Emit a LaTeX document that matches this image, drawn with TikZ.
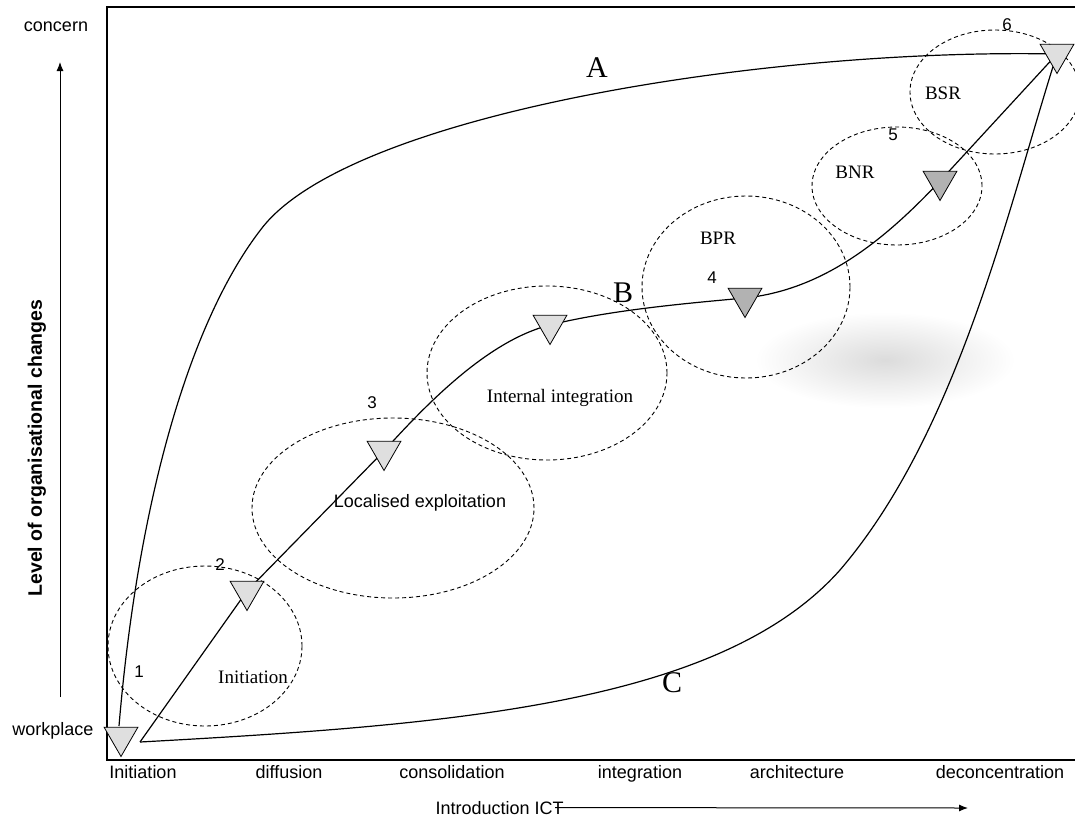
\documentclass[tikz,border=0pt]{standalone}
\usepackage{fontspec}
\setmainfont{Liberation Serif}
\newfontfamily\arial{Liberation Sans}
\usetikzlibrary{shapes.geometric,arrows.meta,backgrounds}
\tikzset{
  ell/.style={draw, line width=0.9pt, dash pattern=on 4pt off 3pt},
  crv/.style={draw, line width=1.2pt},
  tri/.style={regular polygon, regular polygon sides=3, shape border rotate=180,
     draw, line width=0.8pt, fill=gray!25, minimum size=39pt, inner sep=0pt},
  trid/.style={tri, fill=gray!60},
  sans/.style={font=\arial\fontsize{18}{18}\selectfont},
  axl/.style={sans, anchor=base},
  num/.style={font=\arial\fontsize{17}{17}\selectfont},
  ser/.style={font=\fontsize{19}{19}\selectfont},
  big/.style={font=\fontsize{30}{30}\selectfont},
}
\begin{document}
\begin{tikzpicture}[x=1pt,y=-1pt]
\useasboundingbox (0,0) rectangle (1075,822);
% frame
\draw[line width=1.3pt] (1075,7) -- (107,7) -- (107,760) -- (1075,760);
% axes text
\node[sans] (concern) at (56,27) {concern};
\node[sans] (workplace) at (53,731) {workplace};
\coordinate (vtop) at (60,62);
\coordinate (vbot) at (60,697);
\draw[line width=1pt, -{Latex[length=9pt,width=7pt]}] (vbot) -- (vtop);
\node[font=\arial\bfseries\fontsize{19.5}{19.5}\selectfont, rotate=90] (ylab) at (37,448) {Level of organisational changes};
\node[axl] (x1) at (143,778) {Initiation};
\node[axl] (x2) at (289,778) {diffusion};
\node[axl] (x3) at (452,778) {consolidation};
\node[axl] (x4) at (640,778) {integration};
\node[axl] (x5) at (797,778) {architecture};
\node[axl] (x6) at (1000,778) {deconcentration};
\node[sans, anchor=base west] (xlab) at (432,814) {Introduction ICT};
\coordinate (xend) at (968,808);
\draw[line width=1pt, -{Latex[length=9pt,width=7pt]}] ([xshift=-12pt]xlab.east) -- (xend);
% ellipses
\draw[ell] (205,646) ellipse [x radius=97pt, y radius=80pt];
\draw[ell] (393,508) ellipse [x radius=141pt, y radius=90pt];
\draw[ell] (547,373) ellipse [x radius=120pt, y radius=87pt];
\draw[ell] (746,287) ellipse [x radius=104pt, y radius=91pt];
\draw[ell] (897,186) ellipse [x radius=85pt, y radius=59pt];
\draw[ell] (995,92) ellipse [x radius=85pt, y radius=62pt];
% triangles
\node[tri] (t1) at (121,737) {};
\node[tri] (t2) at (247,591) {};
\node[tri] (t3) at (384,451) {};
\node[tri] (ti) at (550,325) {};
\node[trid] (t4) at (745,298) {};
\node[trid] (t5) at (940,181) {};
\node[tri] (t6) at (1057,54) {};
\coordinate (s0) at (140,742);
\coordinate (a0) at (119,726);
\coordinate (a1) at (262,228);
\coordinate (c1) at (840,570);
\begin{scope}[on background layer]
\shade[inner color=gray!28, outer color=white] (885,360) ellipse [x radius=130pt, y radius=48pt];
\draw[crv] (a0) .. controls (138,500) and (190,320) .. (a1)
  .. controls (350,115) and (760,48) .. (t6.center);
\draw[crv] (s0) .. controls (450,725) and (720,705) .. (c1)
  .. controls (960,430) and (1010,200) .. (t6.center);
\draw[crv] (s0) -- (t2.center) -- (t3.center)
  .. controls (430,400) and (490,340) .. (ti.center)
  .. controls (610,310) and (690,303) .. (t4.center)
  .. controls (820,290) and (880,245) .. (t5.center) -- (t6.center);
\end{scope}
% numbers
\node[num] (n1) at (139,672) {1};
\node[num] (n2) at (220,565) {2};
\node[num] (n3) at (372,403) {3};
\node[num] (n4) at (712,278) {4};
\node[num] (n5) at (893,135) {5};
\node[num] (n6) at (1007,25) {6};
% labels
\node[ser] (li) at (253,677) {Initiation};
\node[sans] (ll) at (420,503) {Localised exploitation};
\node[ser] (lint) at (560,398) {Internal integration};
\node[ser] (lbpr) at (718,238) {BPR};
\node[ser] (lbnr) at (855,172) {BNR};
\node[ser] (lbsr) at (943,93) {BSR};
\node[big] (la) at (597,68) {A};
\node[big] (lb) at (623,293) {B};
\node[big] (lc) at (672,683) {C};
\end{tikzpicture}
\end{document}
